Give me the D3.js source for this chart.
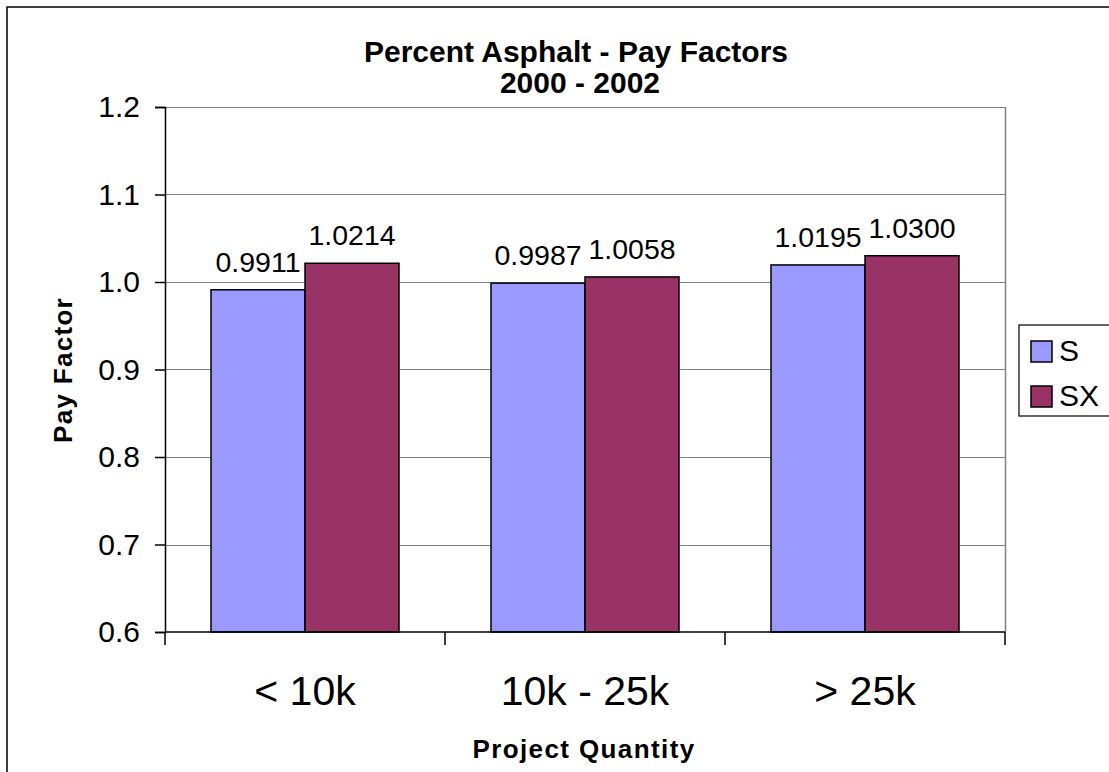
<!DOCTYPE html>
<html><head><meta charset="utf-8">
<script src="https://cdn.jsdelivr.net/npm/d3@7/dist/d3.min.js"></script>
<style>body{margin:0;background:#fff}svg{display:block}text{font-family:"Liberation Sans",Arial,sans-serif}</style>
</head><body><svg id="c" width="1109" height="772"></svg>
<script>
const categories = ["< 10k", "10k - 25k", "> 25k"];
const seriesNames = ["S", "SX"];
const sValues = [0.9911, 0.9987, 1.0195];
const sxValues = [1.0214, 1.0058, 1.0300];
const labelsS = ["0.9911", "0.9987", "1.0195"];
const labelsSX = ["1.0214", "1.0058", "1.0300"];
const yTicks = [0.6, 0.7, 0.8, 0.9, 1.0, 1.1, 1.2];
const colors = ["#9999FF", "#993366"];

const svg = d3.select("#c");
svg.append("rect").attr("x",7).attr("y",7).attr("width",1120).attr("height",800)
  .attr("fill","#fff").attr("stroke","#000").attr("stroke-width",1.5);

const L=165,R=1005,T=107,B=632;
const x = d3.scaleBand().domain(categories).range([L,R]).padding(0);
const xs = d3.scaleBand().domain(seriesNames).range([46,234]);
const y = d3.scaleLinear().domain([0.6,1.2]).range([B,T]);

// gridlines
svg.append("g").selectAll("line").data(yTicks.slice(1)).join("line")
  .attr("x1",L).attr("x2",R).attr("y1",d=>Math.round(y(d))+0.5).attr("y2",d=>Math.round(y(d))+0.5)
  .attr("stroke","#808080").attr("stroke-width",1.2);
svg.append("line").attr("x1",R+0.5).attr("x2",R+0.5).attr("y1",T).attr("y2",B).attr("stroke","#808080").attr("stroke-width",1.5);

const data = categories.map((c,i)=>({c, vals:[sValues[i],sxValues[i]], labs:[labelsS[i],labelsSX[i]]}));
const g = svg.append("g");
data.forEach(d=>{
  seriesNames.forEach((s,j)=>{
    const x0 = x(d.c)+xs(s);
    g.append("rect").attr("x",x0).attr("y",y(d.vals[j])).attr("width",xs.bandwidth())
      .attr("height",B-y(d.vals[j])).attr("fill",colors[j]).attr("stroke","#000").attr("stroke-width",1.5);
    g.append("text").attr("x",x0+xs.bandwidth()/2).attr("y",y(d.vals[j])-18)
      .attr("text-anchor","middle").attr("font-size",28.5).attr("fill","#000").text(d.labs[j]);
  });
});

// y axis
const ya = svg.append("g").attr("transform",`translate(${L},0)`)
  .call(d3.axisLeft(y).tickValues(yTicks).tickFormat(d3.format(".1f")).tickSize(10).tickPadding(15));
ya.select(".domain").attr("stroke","#000").attr("stroke-width",1.5);
ya.selectAll(".tick line").attr("stroke","#000").attr("stroke-width",1.5);
ya.selectAll("text").attr("font-size",30).attr("fill","#000").attr("font-family","Liberation Sans, Arial, sans-serif");

// x axis
const xa = svg.append("g").attr("transform",`translate(0,${B})`)
  .call(d3.axisBottom(x).tickSize(0).tickPadding(0));
xa.select(".domain").remove();
xa.append("line").attr("x1",L).attr("x2",R).attr("stroke","#000").attr("stroke-width",1.5);
xa.selectAll(".tick text").attr("y",73).attr("dy",0).attr("font-size",41).attr("fill","#000").attr("font-family","Liberation Sans, Arial, sans-serif");
const xTickPos = [L, ...categories.map(c=>x(c)+x.bandwidth())];
xa.selectAll(".xt").data(xTickPos).join("line").attr("class","xt")
  .attr("x1",d=>d).attr("x2",d=>d).attr("y1",0).attr("y2",13).attr("stroke","#000").attr("stroke-width",1.5);

// titles
svg.append("text").attr("x",576).attr("y",62).attr("text-anchor","middle").attr("font-size",30).attr("font-weight","bold").text("Percent Asphalt - Pay Factors");
svg.append("text").attr("x",580).attr("y",93).attr("text-anchor","middle").attr("font-size",30).attr("font-weight","bold").text("2000 - 2002");
svg.append("text").attr("x",584).attr("y",758).attr("text-anchor","middle").attr("font-size",26).attr("letter-spacing",1.4).attr("font-weight","bold").text("Project Quantity");
svg.append("text").attr("transform","translate(72,370) rotate(-90)").attr("text-anchor","middle").attr("font-size",26).attr("letter-spacing",1.3).attr("font-weight","bold").text("Pay Factor");

// legend
const lg = svg.append("g");
lg.append("rect").attr("x",1019).attr("y",325).attr("width",120).attr("height",91).attr("fill","#fff").attr("stroke","#000").attr("stroke-width",1.2);
seriesNames.forEach((s,j)=>{
  lg.append("rect").attr("x",1031).attr("y",341+45*j).attr("width",21).attr("height",21).attr("fill",colors[j]).attr("stroke","#000").attr("stroke-width",1.5);
  lg.append("text").attr("x",1059).attr("y",361+45*j).attr("font-size",30).text(s);
});
</script></body></html>
